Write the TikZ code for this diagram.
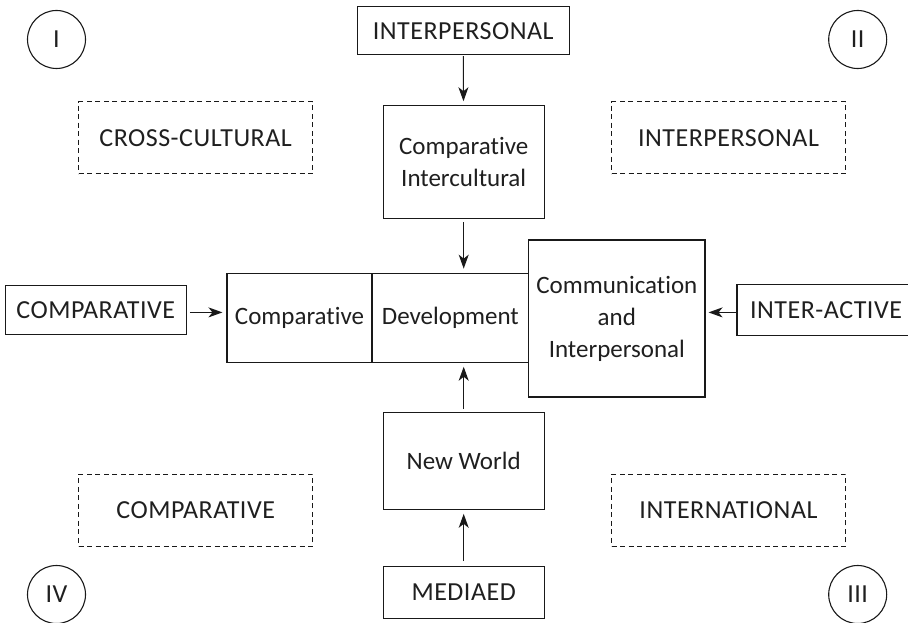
\documentclass[tikz,border=0pt]{standalone}
\usepackage{fontspec}
\setmainfont{Carlito}[Ligatures=NoCommon]
\newfontfamily\capsfont{Carlito}[LetterSpace=2, Ligatures=NoCommon]
\usetikzlibrary{arrows.meta}

\begin{document}
\begin{tikzpicture}[x=1pt,y=-1pt,
  every node/.style={font=\fontsize{25}{32}\selectfont, inner sep=0pt, align=center,
    text=black!88},
  box/.style={draw=black!90, line width=1.1pt, minimum width=#1},
  solidbox/.style={box=161pt},
  tag/.style={font=\capsfont\fontsize{26}{32}\selectfont},
  dbox/.style={draw=black!90, line width=1.1pt, dash pattern=on 5pt off 3.5pt,
    minimum width=234pt, minimum height=72pt, tag},
  roman/.style={draw=black!90, circle, line width=1.1pt, minimum size=58pt, tag},
  arr/.style={draw=black!90, line width=1.1pt, -{Stealth[length=14pt,width=10pt,inset=4pt]},
    shorten >=4pt, shorten <=1pt}
]
\useasboundingbox (0,0) rectangle (908,623);
\clip (0,0) rectangle (908,623);

% quadrant markers
\node[roman] (q1) at (56.5,39.5) {I};
\node[roman] (q2) at (857.7,39.5) {II};
\node[roman] (q3) at (857.7,594.5) {III};
\node[roman] (q4) at (56.5,594.5) {IV};

% dashed quadrant labels
\node[dbox] (cc)   at (195.7,137.7) {CROSS-CULTURAL};
\node[dbox] (ip)   at (728.5,137.7) {INTERPERSONAL};
\node[dbox] (cp)   at (195.7,510.3) {COMPARATIVE};
\node[dbox] (intl) at (728.5,510.3) {INTERNATIONAL};

% vertical column
\node[box=212pt, minimum height=48pt, tag] (top) at (463.2,30.7) {INTERPERSONAL};
\node[solidbox, minimum height=113pt] (ci) at (463.7,162.3) {Comparative\\Intercultural};
\node[solidbox, minimum height=96.6pt] (nw) at (463.7,461) {New World};
\node[solidbox, minimum height=51.6pt, tag] (med) at (463.7,592.5) {MEDIAED};

% central row: two cells side by side, then the tall box
\node[box=145pt, minimum height=89pt] (comp) at (299.5,317.7) {Comparative};
\node[box=156.7pt, minimum height=89pt] (dev) at (450.35,317.7) {Development};
\node[box=176.3pt, minimum height=157pt] (comm) at (616.85,318.5) {Communication\\and\\Interpersonal};

% side inputs
\node[box=181pt, minimum height=49.3pt, tag] (left) at (95.8,309.7) {COMPARATIVE};
\node[box=178pt, minimum height=50.7pt, tag] (right) at (826,309.7) {INTER-ACTIVE};

% connectors
\draw[arr] (top) -- (ci);
\draw[arr, shorten <=3pt] (ci.south) -- (ci.south |- dev.north);
\draw[arr, shorten <=3pt] (nw.north) -- (nw.north |- dev.south);
\draw[arr, shorten <=5pt] (med) -- (nw);
\draw[arr, shorten <=3pt] ([yshift=-2.7pt]left.east) -- ([yshift=-2.7pt]left.east -| comp.west);
\draw[arr, shorten <=0pt, shorten >=3pt] ([yshift=-2.7pt]right.west) -- ([yshift=-2.7pt]right.west -| comm.east);
\end{tikzpicture}
\end{document}
